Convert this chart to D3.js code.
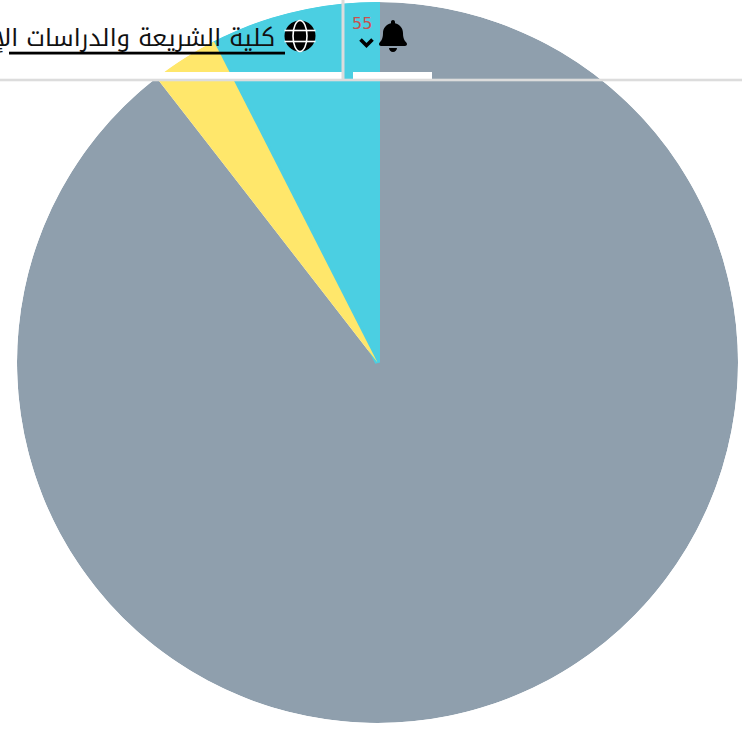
<!DOCTYPE html>
<html>
<head>
<meta charset="utf-8">
<script src="https://cdn.jsdelivr.net/npm/d3@7"></script>
<style>
html, body { margin: 0; padding: 0; background: #fff; overflow: hidden; }
svg { display: block; }
</style>
</head>
<body>
<script>
const width = 742;
const height = 730;

// clockwise from 12 o'clock
const categories = ['a', 'b', 'c'];
const values = [89.5, 3.0, 7.5];
const colors = ['#8f9fad', '#ffe76b', '#4bcfe2'];

const collegeName = 'كلية الشريعة والدراسات الإسلامية';
const badgeCount = '55';

const bellPath = 'M224 512c35.32 0 63.97-28.65 63.97-64H160.03c0 35.35 28.65 64 63.97 64zm215.39-149.71c-19.32-20.76-55.47-51.99-55.47-154.29 0-77.7-54.48-139.9-127.94-155.16V32c0-17.67-14.32-32-31.98-32s-31.98 14.33-31.98 32v20.84C118.56 68.1 64.08 130.3 64.08 208c0 102.3-36.15 133.53-55.47 154.29-6 6.45-8.66 14.16-8.61 21.71.11 16.4 12.98 32 32.1 32h383.8c19.12 0 32-15.6 32.1-32 .05-7.55-2.61-15.27-8.61-21.71z';

const svg = d3.select('body').append('svg')
    .attr('width', width)
    .attr('height', height);

const radius = 360.5;
const pie = d3.pie().sort(null);
const arc = d3.arc().innerRadius(0).outerRadius(radius);

svg.append('clipPath').attr('id', 'disc')
    .append('circle').attr('r', radius);

const slices = svg.append('g')
    .attr('transform', 'translate(377.5,362.5)')
    .attr('clip-path', 'url(#disc)')
    .selectAll('path')
    .data(pie(values))
    .join('path')
    .attr('d', arc)
    .attr('fill', (d, i) => colors[i]);

// the cyan slice bleeds a little over the grey one, so it goes under the yellow
slices.filter((d, i) => i === 2)
    .attr('stroke', colors[2])
    .attr('stroke-width', 5)
    .lower();
slices.filter((d, i) => i === 0).lower();

drawHeader();

function drawHeader() {
    const g = svg.append('g');

    // white strips sitting on top of the header border
    g.append('rect').attr('x', 0).attr('y', 72).attr('width', 342).attr('height', 7).attr('fill', '#fff');
    g.append('rect').attr('x', 353).attr('y', 72).attr('width', 79).attr('height', 7).attr('fill', '#fff');

    g.append('rect').attr('x', 0).attr('y', 78.7).attr('width', width).attr('height', 2.6).attr('fill', '#dcdcdc');
    g.append('rect').attr('x', 341.5).attr('y', 0).attr('width', 3).attr('height', 80).attr('fill', '#dcdcdc');

    g.append('text')
        .attr('x', 275)
        .attr('y', 46)
        .attr('direction', 'rtl')
        .attr('text-anchor', 'start')
        .attr('font-family', '"Noto Kufi Arabic", "DejaVu Sans", sans-serif')
        .attr('font-size', 24)
        .attr('fill', '#111')
        .text(collegeName);

    g.append('rect').attr('x', 9).attr('y', 51.7).attr('width', 276).attr('height', 2.8).attr('fill', '#000');

    // globe icon
    const globe = g.append('g').attr('transform', 'translate(300,36)');
    globe.append('circle').attr('r', 15.5).attr('fill', '#000');
    globe.append('ellipse').attr('rx', 7).attr('ry', 15.5)
        .attr('fill', 'none').attr('stroke', '#fff').attr('stroke-width', 1.6);
    [-5.5, 5.5].forEach(y => {
        globe.append('line')
            .attr('x1', -15.5).attr('x2', 15.5).attr('y1', y).attr('y2', y)
            .attr('stroke', '#fff').attr('stroke-width', 1.6);
    });

    // bell icon
    g.append('path')
        .attr('d', bellPath)
        .attr('transform', 'translate(379,20) scale(0.0625)')
        .attr('fill', '#000');

    // chevron
    g.append('path')
        .attr('d', 'M360.5 39.5 L366.5 45.5 L372.5 39.5')
        .attr('fill', 'none')
        .attr('stroke', '#000')
        .attr('stroke-width', 3.6);

    g.append('text')
        .attr('x', 352)
        .attr('y', 29)
        .attr('font-family', '"DejaVu Sans", sans-serif')
        .attr('font-size', 16)
        .attr('fill', '#c9504f')
        .text(badgeCount);
}
</script>
</body>
</html>
